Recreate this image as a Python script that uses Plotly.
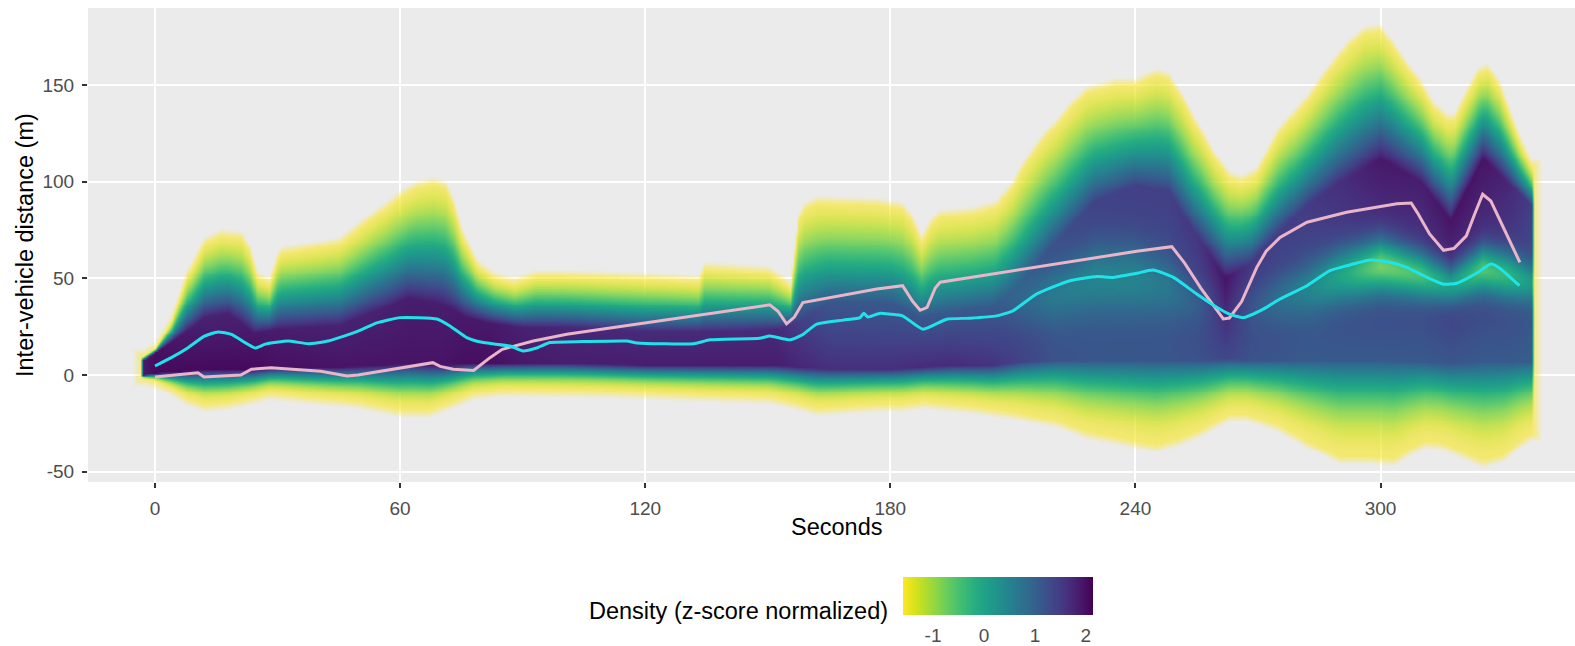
import numpy as np
import plotly.graph_objects as go

# ---------------------------------------------------------------------------
# Outer envelope of the inter-vehicle distance distribution (m) over time (s)
t_upper = [-3, 0, 4, 8, 12, 16, 21, 23, 25, 28, 30, 31, 40, 45, 50, 55, 60, 64, 68,
           71, 73, 75, 79, 83, 88, 93, 100, 113, 125, 133, 134.5, 150, 153, 155.5,
           157.5, 159, 162, 177, 183, 185, 187.5, 190, 192, 200, 206, 210, 212, 216,
           220, 224, 228, 235, 240, 245, 248, 251, 255, 259, 263, 266, 269.5, 275,
           282, 287.5, 292, 296, 300, 302, 306, 310, 313, 316, 318, 321, 324, 326,
           329, 332, 334, 337]
upper = [10, 14, 28, 52, 68, 72, 71, 64, 50, 47, 60, 63, 66, 68, 76, 84, 92, 97, 99,
         97, 88, 73, 56, 50, 47, 51, 51, 50, 49, 48, 55, 53, 49, 45,
         80, 86, 89, 88, 86, 80, 69, 78, 82, 83.5, 87, 98, 106, 118,
         128, 138, 146, 150, 150, 155, 153, 144, 128, 113, 102, 100, 104, 125,
         142, 158, 170, 177, 178, 172, 160, 149, 138, 132, 132, 145, 156, 158,
         149, 132, 121, 108]

t_lower = [-3, 0, 4, 8, 12, 18, 24.5, 28, 37, 50, 60, 67, 72, 78, 85, 110, 135, 150,
           157, 162, 177, 183, 188, 200, 210, 220, 228, 240, 245, 250, 255, 263, 267,
           275, 282, 290, 297, 303, 307, 311, 315, 318, 325, 330, 334, 337]
lower = [-1.5, -3, -7, -12, -15, -14, -11, -9, -11, -13.5, -17.8, -17.8, -14, -9, -7.5,
         -8, -10, -11, -14, -17, -15, -15, -13.5, -16, -19, -23, -29, -34, -36, -33,
         -29, -20, -20, -25.6, -34, -42, -42, -43, -38, -34, -35, -37.7, -43.8, -41,
         -34, -30]

# Shape of the density profile inside the envelope
t_shape = [-3, 0, 6, 12, 18, 24, 30, 45, 55, 62, 70, 76, 82, 90, 100, 120, 140, 152,
           158, 165, 180, 187, 195, 205, 212, 220, 230, 240, 248, 255, 262, 268, 275,
           282, 290, 300, 310, 317, 325, 331, 337]
core_lo = [0, 1, 2, 3, 3, 3, 4, 4, 5, 6, 5, 6, 6, 6, 6, 5, 5, 5,
           4, 3, 3, 4, 5, 5, 7, 8, 8, 8, 8, 8, 9, 8, 8,
           8, 8, 8, 7, 6, 7, 7, 7]
core_hi = [10, 12, 20, 30, 32, 22, 24, 26, 34, 40, 37, 30, 27, 25, 25, 23, 23, 24,
           28, 38, 38, 30, 33, 36, 48, 68, 90, 98, 95, 72, 50, 58, 74,
           88, 100, 112, 100, 80, 112, 100, 88]
# density level at the bottom / top of the core
core_z_lo = [1.9, 2.05, 2.05, 2.05, 2.05, 2.05, 2.0, 1.95, 1.95, 1.95, 1.95, 2.0, 2.0, 1.9, 1.85, 1.85, 1.85, 1.85,
             1.75, 1.65, 1.65, 1.7, 1.7, 1.6, 1.4, 1.2, 1.15, 1.15, 1.15, 1.2, 1.35, 1.2, 1.15,
             1.1, 1.1, 1.1, 1.1, 1.15, 1.1, 1.1, 1.05]
core_z_hi = [1.9, 2.0, 1.9, 1.8, 1.8, 1.9, 1.85, 1.8, 1.8, 1.85, 1.85, 1.9, 1.9, 1.8, 1.75, 1.7, 1.7, 1.7,
             1.45, 1.15, 1.1, 1.15, 1.1, 1.1, 1.15, 1.25, 1.4, 1.45, 1.45, 1.55, 1.95, 1.55, 1.45,
             1.5, 1.65, 1.9, 1.85, 1.95, 1.95, 1.75, 1.45]
valley_c = [40, 40, 40, 40, 40, 40, 40, 40, 40, 40, 40, 40, 40, 40, 40, 40, 40, 40,
            40, 40, 40, 40, 40, 40, 38, 42, 50, 50, 46, 38, 35, 35, 40,
            45, 52, 57, 52, 47, 55, 52, 48]
valley_w = [12, 12, 12, 12, 12, 12, 12, 12, 12, 12, 12, 12, 12, 12, 12, 12, 12, 12,
            12, 12, 12, 12, 12, 12, 12, 15, 18, 18, 16, 12, 12, 12, 12,
            14, 14, 14, 12, 10, 12, 12, 10]
valley_amp = [0, 0, 0, 0, 0, 0, 0, 0, 0, 0, 0, 0, 0, 0, 0, 0, 0, 0,
              0, 0, 0, 0, 0, 0, 0.3, 0.6, 0.8, 0.8, 0.6, 0.3, 0.0, 0.2, 0.5,
              0.8, 1.4, 2.2, 1.9, 1.5, 2.0, 1.7, 1.1]

# Reference trajectories
t_cyan = [0, 4, 8, 12, 15.4, 18.7, 22, 24.5, 27, 32.6, 37.5, 42.4, 47.5, 50, 54.3, 60,
          69, 72.2, 76.3, 80.4, 86.9, 90, 93.4, 96.7, 104.8, 115.5, 118, 131.8, 135.9,
          148, 150.5, 155.4, 158.6, 162, 168.5, 172.6, 173.5, 174.5, 177.5, 180, 183,
          188, 193.8, 199.5, 206, 210, 215.8, 224, 230.6, 234.6, 240.3, 244.3, 249.3,
          255, 260, 263, 266.4, 271.3, 275.4, 282, 287.6, 291.7, 297.5, 302, 306.4,
          310.5, 315.4, 318.7, 323.8, 327, 329, 334]
cyan = [4.7, 9, 14, 20, 22.3, 21, 16.8, 14, 16, 17.6, 16.2, 17.6, 21, 23, 27, 29.7,
        29, 25.4, 19.4, 16.8, 15, 12.5, 14, 16.8, 17.3, 17.6, 16.6, 16.2, 18.2,
        19, 20.2, 18.2, 21, 26.3, 28.4, 29.7, 32, 30, 32, 31.5, 30.6,
        23.7, 28.9, 29.4, 30.6, 33.2, 41.9, 48.8, 50.9, 50.5, 52.6, 54.3, 50.5,
        41.9, 34.9, 31.5, 29.7, 34.1, 39.3, 46.2, 54, 56.5, 59.5, 58.5, 55.7,
        51.4, 47, 47.5, 53, 57.4, 55.5, 46.2]

t_pink = [0, 10.5, 12, 21, 23.6, 28.4, 40.6, 47, 49.7, 68, 69.8, 73, 78, 82, 85, 92.6,
          100.8, 113, 150.5, 152.5, 154.6, 156.5, 158.6, 176.7, 183, 185.5, 187.3,
          189, 191, 192.2, 240.3, 248.9, 252, 256, 261.5, 263, 266, 269.7, 272,
          275.4, 282, 291.7, 304, 307.5, 309, 312, 315.4, 318, 321, 323, 325, 327,
          329.3, 334.1]
pink = [-1, 1.2, -1, 0, 3, 3.8, 2, -0.5, 0, 6.4, 4.5, 3, 2.4, 9, 13.3, 17.6,
        21.1, 24.9, 36.3, 33, 26.5, 30, 37.5, 44.5, 46.2, 38, 33.5,
        35, 45, 48, 64, 66.4, 58, 45, 29, 29.5, 38, 55.7, 64,
        71.2, 79, 84.2, 88.6, 89, 84, 73, 64.5, 65.5, 72, 83, 93.5, 90,
        80, 58.3]

x_ticks = [0, 60, 120, 180, 240, 300]
y_ticks = [-50, 0, 50, 100, 150]
cbar_ticks = [-1, 0, 1, 2]

# ---------------------------------------------------------------------------
CMIN, CMAX = -1.59, 2.14      # colour bar limits
Z_EDGE = -1.55                # density at the envelope edge
Z_FLOOR = -2.3                # fully transparent
FADE_M, FADE_S = 4.0, 2.5     # soft edge width (m, s)
P_TOP, P_BOT = 1.3, 1.8       # curvature of the density ramps

VIRIDIS = ['#440154', '#48186a', '#472d7b', '#424086', '#3b528b', '#33638d',
           '#2c728e', '#26828e', '#21918c', '#1fa088', '#28ae80', '#3fbc73',
           '#5ec962', '#84d44b', '#addc30', '#d8e219', '#fde725']
n = len(VIRIDIS) - 1
viridis_r = [[round(i / n, 6), VIRIDIS[n - i]] for i in range(n + 1)]
viridis_r[-1][0] = 1.0


def rgba(hex_col, a):
    h = hex_col.lstrip('#')
    r, g, b = int(h[0:2], 16), int(h[2:4], 16), int(h[4:6], 16)
    return f'rgba({r},{g},{b},{a:.3f})'


# heatmap colour scale: transparent -> pale yellow, then reversed viridis;
# the low-density fringe is drawn slightly translucent
heat_scale = [[0.0, rgba(VIRIDIS[n], 0.0)]]
for i in range(n + 1):
    zi = CMIN + i / n * (CMAX - CMIN)
    alpha = float(np.interp(zi, [CMIN, -1.2, -0.7, -0.3], [0.6, 0.78, 0.93, 1.0]))
    pos = min(1.0, round((zi - Z_FLOOR) / (CMAX - Z_FLOOR), 6))
    heat_scale.append([pos, rgba(VIRIDIS[n - i], alpha)])
heat_scale[-1][0] = 1.0

# density grid
gx = np.arange(-9, 343.01, 0.5)
gy = np.arange(-57, 191.01, 1.0)
up = np.interp(gx, t_upper, upper)
lo = np.interp(gx, t_lower, lower)
clo = np.interp(gx, t_shape, core_lo)
chi = np.interp(gx, t_shape, core_hi)
czl = np.interp(gx, t_shape, core_z_lo)
czh = np.interp(gx, t_shape, core_z_hi)
vc = np.interp(gx, t_shape, valley_c)
vw = np.interp(gx, t_shape, valley_w)
va = np.interp(gx, t_shape, valley_amp)

GX = gx[None, :]
GY = gy[:, None]
frac = np.clip((GY - clo) / np.maximum(chi - clo, 1.0), 0, 1)
cz = czl + (czh - czl) * frac
span_top = np.maximum(up - chi, 2.0)
span_bot = np.maximum(clo - lo, 1.5)
s_top = np.clip((up - GY) / span_top, 0, 1)
s_bot = np.clip((GY - lo) / span_bot, 0, 1)
ramp = np.minimum(s_top ** P_TOP, s_bot ** P_BOT)
z = Z_EDGE + (cz - Z_EDGE) * ramp
z = z - va * np.exp(-((GY - vc) / vw) ** 2)
z = np.maximum(z, Z_EDGE)

t0, t1 = t_upper[0], t_upper[-1]
d = np.maximum.reduce([
    np.broadcast_to((GY - up) / FADE_M, z.shape),
    np.broadcast_to((lo - GY) / FADE_M, z.shape),
    np.broadcast_to((t0 - GX) / FADE_S, z.shape),
    np.broadcast_to((GX - t1) / FADE_S, z.shape),
])
z = np.where(d > 0, CMIN - (CMIN - Z_FLOOR) * np.clip(d, 0, 1), z)
z = np.round(z, 3)

# ---------------------------------------------------------------------------
W, H = 1575, 646
ML, MR, MT, MB = 88, 0, 8, 164
PW, PH = W - ML - MR, H - MT - MB


def px_x(p):
    return (p - ML) / PW


def px_y(p):
    return (H - MB - p) / PH


FONT = 'Liberation Sans, Arial, Helvetica, sans-serif'
TICK_FONT = dict(family=FONT, size=19, color='#4D4D4D')
TITLE_FONT = dict(family=FONT, size=23.5, color='black')

fig = go.Figure()
fig.add_trace(go.Heatmap(
    x=gx, y=gy, z=z, zmin=Z_FLOOR, zmax=CMAX, colorscale=heat_scale,
    zsmooth='best', showscale=False, hoverinfo='skip'))

fig.add_trace(go.Scatter(
    x=t_pink, y=pink, mode='lines', line=dict(color='#EAB5C9', width=3),
    hoverinfo='skip'))
fig.add_trace(go.Scatter(
    x=t_cyan, y=cyan, mode='lines',
    line=dict(color='#1EE4EA', width=3, shape='spline', smoothing=0.5),
    hoverinfo='skip'))

# colour bar carrier
CB_LEFT, CB_LEN, CB_TOP, CB_THICK = 903, 190, 577, 38
CB_TICK = 7
fig.add_trace(go.Scatter(
    x=[gx[0]], y=[gy[0]], mode='markers', hoverinfo='skip',
    marker=dict(size=1, opacity=0, color=[0], colorscale=viridis_r,
                cmin=CMIN, cmax=CMAX, showscale=True,
                colorbar=dict(
                    orientation='h', thicknessmode='pixels', thickness=CB_THICK,
                    lenmode='pixels', len=CB_LEN,
                    x=px_x(CB_LEFT + CB_LEN / 2), xanchor='center',
                    y=px_y(CB_TOP), yanchor='top', xpad=0, ypad=0,
                    outlinewidth=0, tickvals=cbar_ticks,
                    ticktext=[str(v) for v in cbar_ticks],
                    ticks='outside', ticklen=5, tickcolor='rgba(0,0,0,0)',
                    tickfont=TICK_FONT))))

# white tick marks on both long edges of the colour bar
shapes = []
for v in cbar_ticks:
    xp = CB_LEFT + (v - CMIN) / (CMAX - CMIN) * CB_LEN
    for ya, yb in ((CB_TOP, CB_TOP + CB_TICK),
                   (CB_TOP + CB_THICK - CB_TICK, CB_TOP + CB_THICK)):
        shapes.append(dict(type='line', xref='paper', yref='paper',
                           x0=px_x(xp), x1=px_x(xp), y0=px_y(ya), y1=px_y(yb),
                           line=dict(color='white', width=1.5)))

annotations = [
    dict(text='Inter-vehicle distance (m)', xref='paper', yref='paper',
         x=px_x(25), y=px_y(245), textangle=-90, showarrow=False,
         xanchor='center', yanchor='middle', font=TITLE_FONT),
    dict(text='Seconds', xref='paper', yref='paper',
         x=px_x(836), y=px_y(527), showarrow=False,
         xanchor='center', yanchor='middle', font=TITLE_FONT),
    dict(text='Density (z-score normalized)', xref='paper', yref='paper',
         x=px_x(890), y=px_y(611), showarrow=False,
         xanchor='right', yanchor='middle', font=TITLE_FONT),
]

axis_common = dict(showgrid=True, gridcolor='white', gridwidth=2, zeroline=False,
                   showline=False, ticks='outside', ticklen=5, tickwidth=1.5,
                   tickcolor='#333333', tickfont=TICK_FONT, ticklabelstandoff=4)

fig.update_layout(
    width=W, height=H,
    margin=dict(l=ML, r=MR, t=MT, b=MB, pad=0, autoexpand=False),
    paper_bgcolor='white', plot_bgcolor='#EBEBEB',
    showlegend=False, font=dict(family=FONT),
    shapes=shapes, annotations=annotations,
    xaxis=dict(range=[-16.4, 347.6], tickvals=x_ticks, automargin=False,
               ticktext=[str(v) for v in x_ticks], **axis_common),
    yaxis=dict(range=[-55.3, 189.8], tickvals=y_ticks, automargin=False,
               ticktext=[str(v) for v in y_ticks], **axis_common),
)

fig.write_html('out.html')
